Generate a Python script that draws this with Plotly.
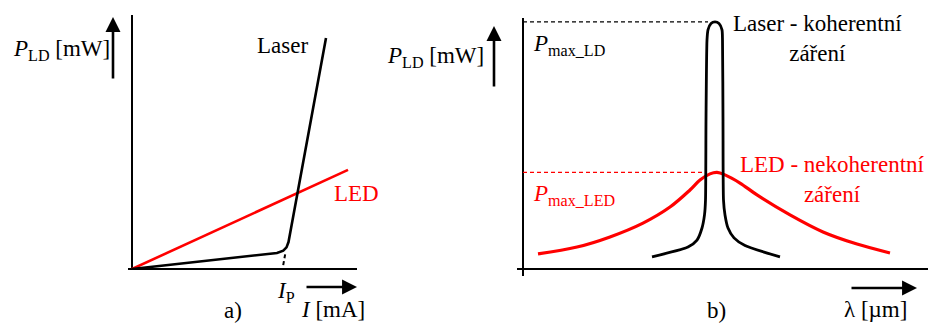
import plotly.graph_objects as go

# ---------------- data (panel a: P vs I) ----------------
I_laser = [0.0, 5.8, 6.05, 6.18, 6.26, 7.76]
P_laser = [0.0, 0.63, 0.72, 0.85, 1.06, 9.09]
I_led = [0.0, 8.64]
P_led = [0.0, 3.90]
I_P = 6.0
I_ext = [6.0, 6.13]
P_ext = [-0.12, 0.60]

# ---------------- data (panel b: spectrum) ----------------
lam_laser = [1.29, 1.65, 1.74, 1.79, 1.815, 1.825, 1.83, 1.84, 1.85, 1.88, 1.92,
             1.96, 1.99, 1.995, 2.00, 2.005, 2.02, 2.05, 2.11, 2.22, 2.57]
S_laser = [0.49, 0.89, 1.17, 1.66, 2.19, 2.79, 6.03, 9.27, 9.68, 9.94, 10.0,
           9.94, 9.68, 9.27, 6.03, 2.79, 2.19, 1.66, 1.26, 0.95, 0.49]
lam_led = [0.15, 0.54, 0.87, 1.20, 1.47, 1.67, 1.77, 1.87, 1.94, 2.02, 2.17,
           2.34, 2.67, 3.00, 3.34, 3.67]
S_led = [0.61, 0.89, 1.30, 1.86, 2.51, 3.20, 3.60, 3.85, 3.91, 3.81, 3.48,
         3.00, 2.19, 1.50, 1.01, 0.65]

W, H = 928, 323
FONT = "Liberation Serif, Times New Roman, serif"
RED = "#ff0000"


def px(x):
    return x / W


def py(y):
    return 1 - y / H


fig = go.Figure()

# panel a
fig.add_trace(go.Scatter(x=I_led, y=P_led, mode="lines",
                         line=dict(color=RED, width=2.6), xaxis="x", yaxis="y"))
fig.add_trace(go.Scatter(x=I_laser, y=P_laser, mode="lines",
                         line=dict(color="black", width=2.6), xaxis="x", yaxis="y"))
fig.add_trace(go.Scatter(x=I_ext, y=P_ext, mode="lines",
                         line=dict(color="black", width=2, dash="4px,3px"),
                         xaxis="x", yaxis="y"))

# panel b
pk_l = max(S_laser)
pk_l_x = lam_laser[S_laser.index(pk_l)]
pk_e = max(S_led)
pk_e_x = lam_led[S_led.index(pk_e)]
fig.add_trace(go.Scatter(x=[0, pk_l_x - 0.07], y=[pk_l, pk_l], mode="lines",
                         line=dict(color="black", width=1.2, dash="4px,3px"),
                         xaxis="x2", yaxis="y2"))
fig.add_trace(go.Scatter(x=[0, pk_e_x - 0.12], y=[pk_e, pk_e], mode="lines",
                         line=dict(color=RED, width=1.2, dash="4px,3px"),
                         xaxis="x2", yaxis="y2"))
fig.add_trace(go.Scatter(x=lam_led, y=S_led, mode="lines", line_shape="spline",
                         line=dict(color=RED, width=3.2), xaxis="x2", yaxis="y2"))
fig.add_trace(go.Scatter(x=lam_laser, y=S_laser, mode="lines", line_shape="spline",
                         line=dict(color="black", width=2.8, smoothing=0.6),
                         xaxis="x2", yaxis="y2"))

ax_common = dict(showgrid=False, showticklabels=False, ticks="", showline=False,
                 zeroline=True, zerolinecolor="black", zerolinewidth=1.5,
                 fixedrange=True)

fig.update_layout(
    width=W, height=H, margin=dict(l=0, r=0, t=0, b=0),
    paper_bgcolor="white", plot_bgcolor="white", showlegend=False,
    hovermode=False,
    xaxis=dict(domain=[px(128), px(357)], range=[-0.16, 9.0], anchor="y", **ax_common),
    yaxis=dict(domain=[py(270), py(15)], range=[-0.04, 10.0], anchor="x", **ax_common),
    xaxis2=dict(domain=[px(517), px(928)], range=[-0.06, 4.05], anchor="y2", **ax_common),
    yaxis2=dict(domain=[py(276), py(18)], range=[-0.283, 10.16], anchor="x2", **ax_common),
)

ann = []


def text(t, x, y, color="black", xanchor="left", size=23, align="left"):
    ann.append(dict(text=t, x=px(x), y=py(y), xref="paper", yref="paper",
                    xanchor=xanchor, yanchor="middle", showarrow=False,
                    align=align, font=dict(family=FONT, size=size, color=color)))


def arrow(x0, y0, x1, y1):
    ann.append(dict(text="", x=px(x1), y=py(y1), xref="paper", yref="paper",
                    ax=x0 - x1, ay=y0 - y1, showarrow=True, arrowhead=2,
                    arrowwidth=2.6, arrowsize=1.15, arrowcolor="black",
                    standoff=0, startstandoff=0))


# panel a texts
text("<i>P</i><sub>LD</sub> [mW]", 11, 50)
text("Laser", 255, 45)
text("LED", 332, 193, color=RED)
text("<i>I</i><sub>P</sub>", 275, 292)
text("<i>I</i> [mA]", 299, 309)
text("a)", 222, 310)
arrow(113, 80, 113, 17)
arrow(305, 287, 357, 287)

# panel b texts
text("<i>P</i><sub>LD</sub> [mW]", 385, 57)
text("<i>P</i><sub>max_LD</sub>", 531, 45)
text("<i>P</i><sub>max_LED</sub>", 531, 195, color=RED)
text("Laser - koherentní<br>záření", 817, 38, xanchor="center", align="center")
text("LED - nekoherentní<br>záření", 832, 179, color=RED, xanchor="center", align="center")
text("b)", 705, 310)
text("λ [µm]", 842, 309)
arrow(494, 88, 494, 26)
arrow(850, 288, 917, 288)

fig.update_layout(annotations=ann)

fig.write_html("out.html", config=dict(displayModeBar=False, staticPlot=True),
               post_script="document.body.style.margin='0';"
                           "document.body.style.overflow='hidden';")
